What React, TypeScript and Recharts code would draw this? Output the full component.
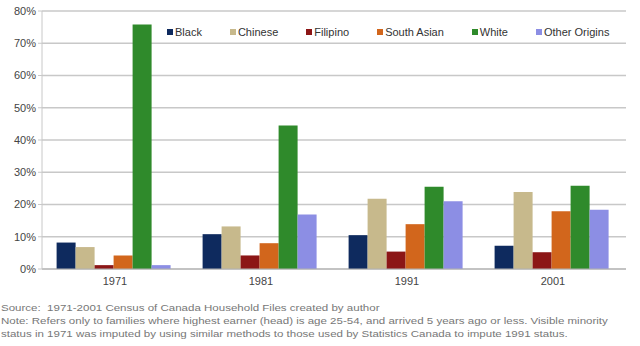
import { BarChart, Bar, XAxis, YAxis, CartesianGrid } from "recharts";

const years = ["1971", "1981", "1991", "2001"];
const black = [8.2, 10.8, 10.5, 7.2];
const chinese = [6.8, 13.2, 21.8, 23.9];
const filipino = [1.2, 4.2, 5.4, 5.2];
const southAsian = [4.2, 8.0, 13.9, 17.9];
const white = [75.8, 44.5, 25.5, 25.8];
const otherOrigins = [1.2, 16.9, 21.0, 18.4];

const seriesList = [
  { key: "black", name: "Black", color: "#0e2a5e", values: black },
  { key: "chinese", name: "Chinese", color: "#c7b98c", values: chinese },
  { key: "filipino", name: "Filipino", color: "#8c1616", values: filipino },
  { key: "southAsian", name: "South Asian", color: "#d2661c", values: southAsian },
  { key: "white", name: "White", color: "#2f8a2b", values: white },
  { key: "other", name: "Other Origins", color: "#8c8ee4", values: otherOrigins },
];

const yTicks = [0, 10, 20, 30, 40, 50, 60, 70, 80];

const data = years.map((y, i) => {
  const row: any = { year: y };
  seriesList.forEach(s => { row[s.key] = s.values[i]; });
  return row;
});

const font = "Arial, 'Liberation Sans', sans-serif";

export default function App() {
  return (
    <div style={{ position: "absolute", left: 0, top: 0, width: 640, height: 346, background: "#fff", fontFamily: font }}>
      <BarChart width={640} height={295} data={data} margin={{ top: 11, right: 14, bottom: 6, left: 0 }}
        barCategoryGap="10%" barGap={0}>
        <CartesianGrid vertical={false} stroke="#c8c8c8" strokeWidth={1.5} />
        <XAxis dataKey="year" height={20} tickLine={false} axisLine={{ stroke: "#b0b0b0" }}
          tick={{ fontSize: 11, fill: "#444", fontFamily: font }} />
        <YAxis width={42} domain={[0, 80]} ticks={yTicks} interval={0} tickFormatter={v => `${v}%`}
          axisLine={{ stroke: "#c8c8c8" }} tickLine={{ stroke: "#c8c8c8" }} tickSize={4}
          tick={{ fontSize: 11, fill: "#444", fontFamily: font }} />
        {seriesList.map(s => (
          <Bar key={s.key} dataKey={s.key} name={s.name} fill={s.color} isAnimationActive={false} />
        ))}
      </BarChart>

      {/* legend sits inside the plot, over the 70% gridline band */}
      <div style={{ position: "absolute", left: 165, top: 25, display: "flex", gap: 28, background: "#fff",
        fontSize: 11, color: "#333", padding: "1px 4px 2px 2px" }}>
        {seriesList.map(s => (
          <div key={s.key} style={{ display: "flex", alignItems: "center" }}>
            <span style={{ width: 6, height: 6, background: s.color, marginRight: 2, display: "inline-block" }} />
            {s.name}
          </div>
        ))}
      </div>

      <div style={{ position: "absolute", left: 1, top: 302, fontSize: 9, lineHeight: "13px", color: "#777",
        whiteSpace: "nowrap", transform: "scaleX(1.28)", transformOrigin: "left top" }}>
        <div>Source:&nbsp; 1971-2001 Census of Canada Household Files created by author</div>
        <div>Note: Refers only to families where highest earner (head) is age 25-54, and arrived 5 years ago or less. Visible minority</div>
        <div>status in 1971 was imputed by using similar methods to those used by Statistics Canada to impute 1991 status.</div>
      </div>
    </div>
  );
}
